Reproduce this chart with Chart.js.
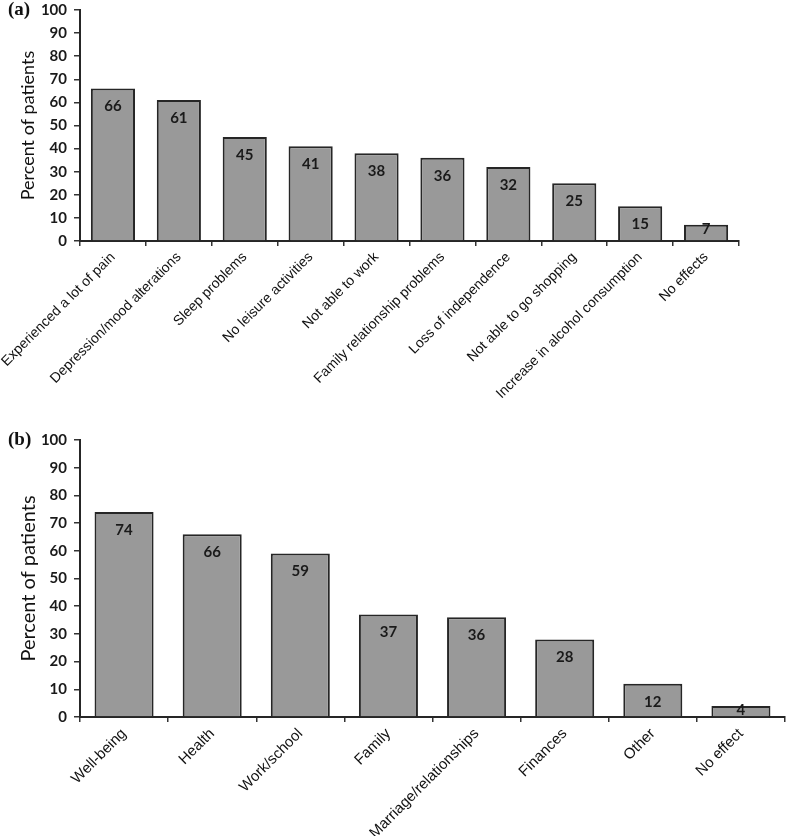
<!DOCTYPE html>
<html>
<head>
<meta charset="utf-8">
<script src="https://cdn.jsdelivr.net/npm/chart.js@4"></script>
<style>
  body { margin: 0; background: #fff; }
  .panel { position: relative; width: 787px; }
  .tag { position: absolute; left: 8px; font: bold 19px "Liberation Serif", "DejaVu Serif", serif; color: #111; }
</style>
</head>
<body>
<div class="panel" style="height:420px">
  <div class="tag" style="top:-2px">(a)</div>
  <canvas id="chartA" width="787" height="420"></canvas>
</div>
<div class="panel" style="height:416px">
  <div class="tag" style="top:8px">(b)</div>
  <canvas id="chartB" width="787" height="416"></canvas>
</div>
<script>
const labelsA = ["Experienced a lot of pain", "Depression/mood alterations", "Sleep problems",
  "No leisure activities", "Not able to work", "Family relationship problems",
  "Loss of independence", "Not able to go shopping", "Increase in alcohol consumption", "No effects"];
const valuesA = [66, 61, 45, 41, 38, 36, 32, 25, 15, 7];

const labelsB = ["Well-being", "Health", "Work/school", "Family", "Marriage/relationships",
  "Finances", "Other", "No effect"];
const valuesB = [74, 66, 59, 37, 36, 28, 12, 4];

const yMin = 0, yMax = 100, yStep = 10;
const yTitle = "Percent of patients";

// writes each value inside its bar, near the top
const valueLabels = {
  id: 'valueLabels',
  afterDatasetsDraw(chart) {
    const ctx = chart.ctx;
    const meta = chart.getDatasetMeta(0);
    ctx.save();
    ctx.font = 'bold 15px Lato, "Open Sans", sans-serif';
    ctx.fillStyle = '#1a1a1a';
    ctx.textAlign = 'center';
    ctx.textBaseline = 'middle';
    meta.data.forEach((bar, i) => {
      const h = bar.base - bar.y;
      const y = h >= 30 ? bar.y + 18 : bar.y + 4;
      ctx.fillText(chart.data.datasets[0].data[i], bar.x, y);
    });
    ctx.restore();
  }
};

function makeChart(id, labels, values, box) {
  return new Chart(document.getElementById(id), {
    type: 'bar',
    data: {
      labels: labels,
      datasets: [{
        data: values,
        backgroundColor: '#999999',
        borderColor: '#262626',
        borderWidth: 2,
        borderSkipped: 'bottom',
        barPercentage: 0.67,
        categoryPercentage: 1
      }]
    },
    options: {
      responsive: false,
      animation: false,
      devicePixelRatio: 1,
      layout: { padding: { top: box.top, right: box.right, left: 0, bottom: 0 } },
      plugins: { legend: { display: false }, tooltip: { enabled: false } },
      scales: {
        x: {
          grid: { display: true, drawOnChartArea: false, drawTicks: true, tickLength: 5, color: '#333', lineWidth: 1.5 },
          border: { color: '#262626', width: 2 },
          ticks: {
            autoSkip: false, minRotation: 45, maxRotation: 45, padding: 3,
            color: '#111', font: { family: '"Liberation Sans", Arial, sans-serif', size: box.labelSize }
          },
          afterFit(s) { s.height = box.xHeight; s.paddingLeft = 0; s.paddingRight = 0; }
        },
        y: {
          min: yMin, max: yMax,
          grid: { display: true, drawOnChartArea: false, drawTicks: true, tickLength: 6, color: '#333', lineWidth: 1.5 },
          border: { color: '#262626', width: 2 },
          ticks: {
            stepSize: yStep, padding: 7,
            color: '#1a1a1a', font: { family: 'Lato, "Open Sans", sans-serif', size: 15, weight: 'bold' }
          },
          title: {
            display: true, text: yTitle, color: '#111',
            font: { family: 'Lato, "Open Sans", sans-serif', size: box.titleSize, weight: 'normal' },
            padding: { top: 17, bottom: 0 }
          },
          afterFit(s) { s.width = 80; s.paddingTop = 0; s.paddingBottom = 0; }
        }
      }
    },
    plugins: [valueLabels]
  });
}

makeChart('chartA', labelsA, valuesA, { top: 10, right: 48, xHeight: 179, titleSize: 18, labelSize: 14 });
makeChart('chartB', labelsB, valuesB, { top: 20, right: 2, xHeight: 119, titleSize: 20, labelSize: 15 });
</script>
</body>
</html>
